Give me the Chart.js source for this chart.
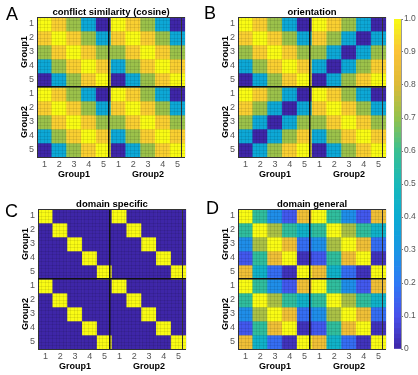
<!DOCTYPE html>
<html>
<head>
<meta charset="utf-8">
<script src="https://cdn.jsdelivr.net/npm/chart.js@4"></script>
<style>
  html, body { margin: 0; padding: 0; background: #fff; }
  #wrap { position: relative; width: 418px; height: 375px; }
  #wrap canvas { position: absolute; left: 0; top: 0; }
</style>
</head>
<body>
<div id="wrap">
  <canvas id="panelA" width="418" height="375"></canvas>
  <canvas id="panelB" width="418" height="375"></canvas>
  <canvas id="panelC" width="418" height="375"></canvas>
  <canvas id="panelD" width="418" height="375"></canvas>
  <canvas id="colorbar" width="418" height="375"></canvas>
</div>
<script>
// condition labels and group names
const condLabels = ["1", "2", "3", "4", "5"];
const groupLabels = ["Group1", "Group2"];

// 5x5 similarity blocks
const conflictBlock = [
  [1.00, 0.92, 0.71, 0.38, 0.00],
  [0.92, 1.00, 0.92, 0.71, 0.38],
  [0.71, 0.92, 1.00, 0.92, 0.71],
  [0.38, 0.71, 0.92, 1.00, 0.92],
  [0.00, 0.38, 0.71, 0.92, 1.00],
];
const orientCrossBlock = [
  [1.00, 0.92, 0.71, 0.38, 0.00],
  [0.92, 0.71, 0.38, 0.00, 0.38],
  [0.71, 0.38, 0.00, 0.38, 0.71],
  [0.38, 0.00, 0.38, 0.71, 0.92],
  [0.00, 0.38, 0.71, 0.92, 1.00],
];
const specificBlock = [
  [1, 0, 0, 0, 0],
  [0, 1, 0, 0, 0],
  [0, 0, 1, 0, 0],
  [0, 0, 0, 1, 0],
  [0, 0, 0, 0, 1],
];
const generalBlock = [
  [1.00, 0.57, 0.27, 0.12, 0.86],
  [0.57, 1.00, 0.73, 0.57, 0.44],
  [0.27, 0.73, 1.00, 0.86, 0.17],
  [0.12, 0.57, 0.86, 1.00, 0.03],
  [0.86, 0.44, 0.17, 0.03, 1.00],
];

const panelLetters = ["A", "B", "C", "D"];
const panelTitles = ["conflict similarity (cosine)", "orientation", "domain specific", "domain general"];

// colorbar range
const cbMin = 0;
const cbMax = 1;
const cbStep = 0.1;

const FONT = "'Liberation Sans', Arial, Helvetica, sans-serif";
Chart.defaults.font.family = FONT;

// parula-like colormap stops
const parulaStops = [
  [0.00, 62, 38, 168],
  [0.10, 71, 80, 235],
  [0.20, 45, 122, 245],
  [0.30, 25, 150, 228],
  [0.40, 10, 172, 210],
  [0.50, 25, 185, 185],
  [0.60, 58, 191, 145],
  [0.70, 148, 194, 76],
  [0.80, 220, 186, 55],
  [0.90, 252, 195, 55],
  [0.95, 245, 225, 40],
  [1.00, 249, 251, 20],
];

function parulaColor(v) {
  v = Math.max(0, Math.min(1, v));
  for (let i = 1; i < parulaStops.length; i++) {
    const a = parulaStops[i - 1], b = parulaStops[i];
    if (v <= b[0]) {
      const t = (v - a[0]) / (b[0] - a[0]);
      const c = [1, 2, 3].map((k) => Math.round(a[k] + (b[k] - a[k]) * t));
      return `rgb(${c[0]},${c[1]},${c[2]})`;
    }
  }
  return "rgb(249,251,20)";
}

// stitch four 5x5 blocks into a 10x10 matrix
function joinBlocks(tl, tr, bl, br) {
  const rows = [];
  for (let i = 0; i < 5; i++) rows.push(tl[i].concat(tr[i]));
  for (let i = 0; i < 5; i++) rows.push(bl[i].concat(br[i]));
  return rows;
}

const matrices = [
  joinBlocks(conflictBlock, conflictBlock, conflictBlock, conflictBlock),
  joinBlocks(conflictBlock, orientCrossBlock, orientCrossBlock, conflictBlock),
  joinBlocks(specificBlock, specificBlock, specificBlock, specificBlock),
  joinBlocks(generalBlock, generalBlock, generalBlock, generalBlock),
];

// plot boxes in page pixels
const boxes = [
  { left: 37, top: 17, w: 148, h: 140 },
  { left: 238, top: 17, w: 148, h: 140 },
  { left: 38, top: 209, w: 148, h: 140 },
  { left: 238, top: 209, w: 148, h: 140 },
];
const letterPos = [[6, 20], [204, 19], [5, 217], [206, 214]];
const Y_AXIS_W = 20;
const X_AXIS_H = 14;

// sub grid every quarter cell
const subTicks = [];
for (let i = 0; i <= 40; i++) subTicks.push(i * 0.25);

function gridColor(ctx) {
  const v = ctx.tick ? ctx.tick.value : -1;
  if (v === 5) return "#111";
  if (v === 0 || v === 10) return "#333";
  return "rgba(0,0,0,0.08)";
}
function gridWidth(ctx) {
  const v = ctx.tick ? ctx.tick.value : -1;
  return v === 5 ? 1.5 : 1;
}

// titles, panel letters and group labels
const panelText = {
  id: "panelText",
  afterDraw(chart, args, opts) {
    if (!opts || !opts.title) return;
    const { ctx, chartArea: a } = chart;
    const xs = chart.scales.x;
    ctx.save();
    ctx.fillStyle = "#000";
    ctx.font = "18px " + FONT;
    ctx.textAlign = "left";
    ctx.textBaseline = "alphabetic";
    ctx.fillText(opts.letter, opts.letterX, opts.letterY);

    ctx.font = "bold 9.5px " + FONT;
    ctx.textAlign = "center";
    ctx.fillText(opts.title, (a.left + a.right) / 2, a.top - 2);

    ctx.font = "bold 9px " + FONT;
    ctx.textBaseline = "middle";
    groupLabels.forEach((g, i) => {
      ctx.fillText(g, xs.getPixelForValue(i * 5 + 2), a.bottom + 18);
      const cy = a.top + ((a.bottom - a.top) * (i * 2 + 1)) / 4;
      ctx.save();
      ctx.translate(a.left - 12.5, cy);
      ctx.rotate(-Math.PI / 2);
      ctx.fillText(g, 0, 0);
      ctx.restore();
    });
    ctx.restore();
  },
};

function drawHeatmap(id, idx) {
  const matrix = matrices[idx];
  const box = boxes[idx];
  const datasets = matrix.map((row, r) => ({
    data: row.map(() => [r, r + 1]),
    backgroundColor: row.map(parulaColor),
    borderWidth: 0,
    grouped: false,
    categoryPercentage: 1,
    barPercentage: 1,
  }));

  new Chart(document.getElementById(id), {
    type: "bar",
    data: { labels: condLabels.concat(condLabels), datasets: datasets },
    plugins: [panelText],
    options: {
      responsive: false,
      animation: false,
      devicePixelRatio: 1,
      events: [],
      layout: {
        padding: {
          left: box.left - Y_AXIS_W,
          top: box.top,
          right: 418 - box.left - box.w,
          bottom: 375 - box.top - box.h - X_AXIS_H,
        },
      },
      plugins: {
        legend: { display: false },
        tooltip: { enabled: false },
        panelText: {
          letter: panelLetters[idx],
          title: panelTitles[idx],
          letterX: letterPos[idx][0],
          letterY: letterPos[idx][1],
        },
      },
      scales: {
        x: {
          type: "category",
          offset: true,
          grid: { display: false, drawTicks: false },
          border: { display: false },
          ticks: { color: "#555", font: { size: 9 }, padding: 2, maxRotation: 0, autoSkip: false },
          afterFit: (s) => { s.height = X_AXIS_H; },
        },
        xg: {
          type: "linear",
          position: "top",
          min: 0,
          max: 10,
          afterBuildTicks: (s) => { s.ticks = subTicks.map((v) => ({ value: v })); },
          ticks: { display: false },
          border: { display: false },
          grid: { z: 1, drawTicks: false, color: gridColor, lineWidth: gridWidth },
          afterFit: (s) => { s.height = 0; },
        },
        y: {
          type: "linear",
          min: 0,
          max: 10,
          reverse: true,
          afterBuildTicks: (s) => { s.ticks = subTicks.map((v) => ({ value: v })); },
          ticks: {
            autoSkip: false,
            color: "#555",
            font: { size: 9 },
            padding: 3,
            callback: (v) => {
              const k = v - 0.5;
              return Number.isInteger(k) ? condLabels[k % 5] : "";
            },
          },
          border: { display: false },
          grid: { z: 1, drawTicks: false, color: gridColor, lineWidth: gridWidth },
          afterFit: (s) => { s.width = Y_AXIS_W; },
        },
      },
    },
  });
}

["panelA", "panelB", "panelC", "panelD"].forEach((id, i) => drawHeatmap(id, i));

// colorbar: thin stacked slices of the colormap
const cbLevels = [];
for (let i = 0; i < 64; i++) cbLevels.push(cbMin + ((cbMax - cbMin) * i) / 64);

new Chart(document.getElementById("colorbar"), {
  type: "bar",
  data: {
    labels: [""],
    datasets: cbLevels.map((v) => ({
      data: [[v, v + (cbMax - cbMin) / 64]],
      backgroundColor: parulaColor(v + (cbMax - cbMin) / 128),
      borderWidth: 0,
      grouped: false,
      categoryPercentage: 1,
      barPercentage: 1,
    })),
  },
  options: {
    responsive: false,
    animation: false,
    devicePixelRatio: 1,
    events: [],
    layout: { padding: { left: 394, right: 0, top: 19, bottom: 26 } },
    plugins: { legend: { display: false }, tooltip: { enabled: false } },
    scales: {
      x: { display: false },
      y: {
        position: "right",
        min: cbMin,
        max: cbMax,
        ticks: { stepSize: cbStep, color: "#555", font: { size: 8.5 }, padding: 1 },
        grid: { drawOnChartArea: false, tickLength: 2, color: "#777" },
        border: { display: true, color: "#999" },
        afterFit: (s) => { s.width = 17; },
      },
    },
  },
});
</script>
</body>
</html>
